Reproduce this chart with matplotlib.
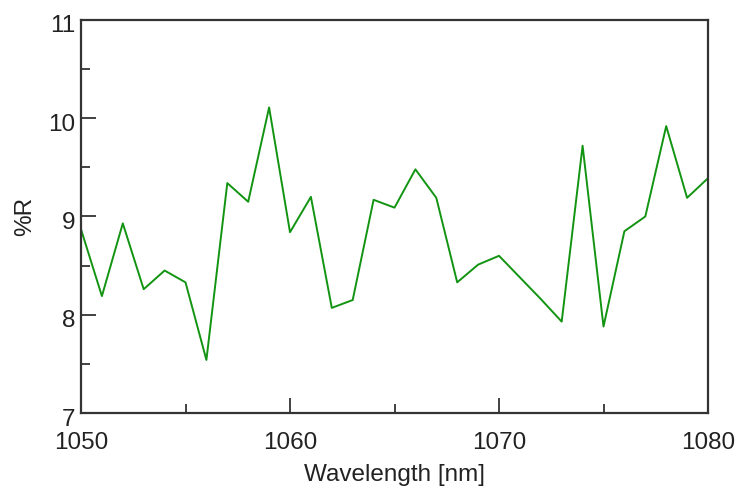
import matplotlib
matplotlib.use("Agg")
import matplotlib.pyplot as plt
import matplotlib.transforms as mtransforms
from matplotlib.ticker import MultipleLocator

# Reflectance spectrum, one reading per nanometre
wavelength = list(range(1050, 1081))
reflectance = [8.87, 8.19, 8.93, 8.26, 8.45, 8.33, 7.54, 9.34, 9.15, 10.11,
               8.84, 9.20, 8.07, 8.15, 9.17, 9.09, 9.48, 9.19, 8.33, 8.51,
               8.60, 8.38, 8.16, 7.93, 9.72, 7.88, 8.85, 9.00, 9.92, 9.19,
               9.39]

x_ticks = [1050, 1060, 1070, 1080]
y_ticks = [7, 8, 9, 10, 11]

plt.rcParams["font.family"] = ["Liberation Sans", "DejaVu Sans"]
text_color = "#222222"
spine_color = "#333333"

fig = plt.figure(figsize=(7.36, 4.90), dpi=100)
ax = fig.add_axes([81 / 736, 77 / 490, 627 / 736, 393 / 490])

ax.plot(wavelength, reflectance, color="#129412", linewidth=1.4)

ax.set_xlim(1050, 1080)
ax.set_ylim(7, 11)
ax.set_xticks(x_ticks)
ax.set_yticks(y_ticks)
ax.xaxis.set_minor_locator(MultipleLocator(5))
ax.yaxis.set_minor_locator(MultipleLocator(0.5))

ax.tick_params(which="both", direction="in", colors=spine_color,
               labelcolor=text_color, labelsize=17.5, width=1.3,
               top=False, right=False)
ax.tick_params(which="major", length=10.5)
ax.tick_params(which="minor", length=6.3)
ax.tick_params(axis="x", pad=14)
ax.tick_params(axis="y", pad=4)

# Nudge y tick labels slightly downward
shift = mtransforms.ScaledTranslation(0, -4 / 100, fig.dpi_scale_trans)
for lbl in ax.get_yticklabels():
    lbl.set_transform(lbl.get_transform() + shift)

for sp in ax.spines.values():
    sp.set_color(spine_color)
    sp.set_linewidth(1.6)

ax.set_xlabel("Wavelength [nm]", fontsize=17.5, color=text_color, labelpad=7)
ax.set_ylabel("%R", fontsize=17.5, color=text_color, labelpad=9)

fig.savefig("out.png", dpi=100, facecolor="white")
